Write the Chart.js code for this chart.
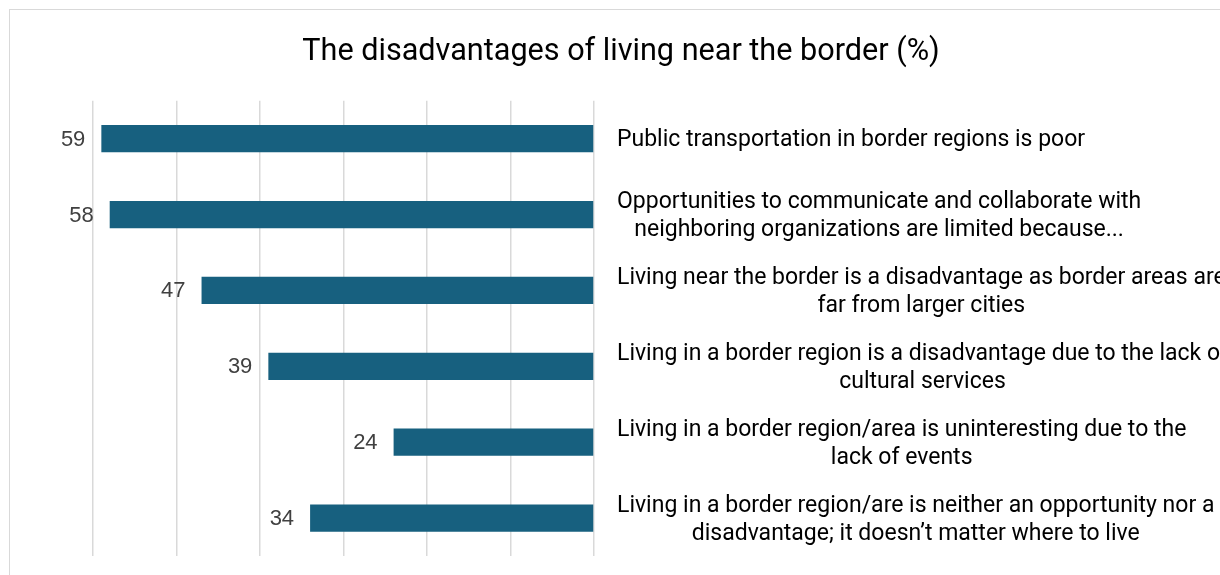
<!DOCTYPE html>
<html>
<head>
<meta charset="utf-8">
<script src="https://cdn.jsdelivr.net/npm/chart.js@4"></script>
<style>
  html, body { margin: 0; padding: 0; background: #fff; overflow: hidden; }
  #frame { position: absolute; left: 9px; top: 9px; width: 1240px; height: 600px; border: 1px solid #d9d9d9; }
  #wrap { position: absolute; left: 0; top: 0; width: 1222px; height: 566px; }
</style>
</head>
<body>
<div id="frame">
  <div id="wrap"><canvas id="disadvantages"></canvas></div>
</div>
<script>
const categories = [
  ['Public transportation in border regions is poor'],
  ['Opportunities to communicate and collaborate with', 'neighboring organizations are limited because...'],
  ['Living near the border is a disadvantage as border areas are', 'far from larger cities'],
  ['Living in a border region is a disadvantage due to the lack of', 'cultural services'],
  ['Living in a border region/area is uninteresting due to the', 'lack of events'],
  ['Living in a border region/are is neither an opportunity nor a', 'disadvantage; it doesn\u2019t matter where to live']
];
const shares = [59, 58, 47, 39, 24, 34];

const labelFont = '23px Roboto';

// value labels just left of each bar end
const valueLabels = {
  id: 'valueLabels',
  afterDatasetsDraw(chart) {
    const ctx = chart.ctx;
    const meta = chart.getDatasetMeta(0);
    ctx.save();
    ctx.font = '22px "Liberation Sans"';
    ctx.fillStyle = '#404040';
    ctx.textAlign = 'right';
    ctx.textBaseline = 'middle';
    meta.data.forEach((bar, i) => {
      ctx.fillText(String(shares[i]), bar.x - 16, bar.y + 1);
    });
    ctx.restore();
  }
};

// category labels: block left-aligned, lines centred on the widest line
const categoryLabels = {
  id: 'categoryLabels',
  afterDraw(chart) {
    const ctx = chart.ctx;
    const y = chart.scales.y;
    const lineH = 28;
    ctx.save();
    ctx.font = labelFont;
    ctx.fillStyle = '#000';
    ctx.textAlign = 'center';
    ctx.textBaseline = 'middle';
    categories.forEach((lines, i) => {
      const widest = Math.max(...lines.map(l => ctx.measureText(l).width));
      const cx = y.left + 23 + widest / 2;
      const cy = y.getPixelForValue(i) + 2;
      const top = cy - (lines.length - 1) * lineH / 2;
      lines.forEach((l, j) => ctx.fillText(l, cx, top + j * lineH));
    });
    ctx.restore();
  }
};

const config = {
  type: 'bar',
  data: {
    labels: categories,
    datasets: [{
      data: shares,
      backgroundColor: '#17607f',
      borderWidth: 0,
      barPercentage: 0.72,
      categoryPercentage: 0.5
    }]
  },
  options: {
    indexAxis: 'y',
    responsive: true,
    maintainAspectRatio: false,
    animation: false,
    layout: { padding: { left: 0, right: 0, top: 0, bottom: 20 } },
    scales: {
      x: {
        reverse: true,
        min: 0,
        max: 60,
        ticks: { display: false, stepSize: 10 },
        grid: { color: '#d9d9d9', lineWidth: 1.5, drawTicks: false },
        border: { display: false }
      },
      y: {
        position: 'right',
        ticks: { display: false },
        grid: { display: false },
        border: { display: false },
        afterFit(scale) { scale.width = 638; }
      },
      // empty left gutter that holds the value labels
      gutter: {
        type: 'category',
        axis: 'y',
        position: 'left',
        ticks: { display: false },
        grid: { display: false },
        border: { display: false },
        afterFit(scale) { scale.width = 83; }
      }
    },
    plugins: {
      legend: { display: false },
      tooltip: { enabled: false },
      title: {
        display: true,
        text: 'The disadvantages of living near the border (%)',
        color: '#000',
        font: { family: 'Roboto', size: 30.6, weight: 'normal' },
        padding: { top: 24, bottom: 30 }
      }
    }
  },
  plugins: [valueLabels, categoryLabels]
};

const barChart = new Chart(document.getElementById('disadvantages'), config);
</script>
</body>
</html>
